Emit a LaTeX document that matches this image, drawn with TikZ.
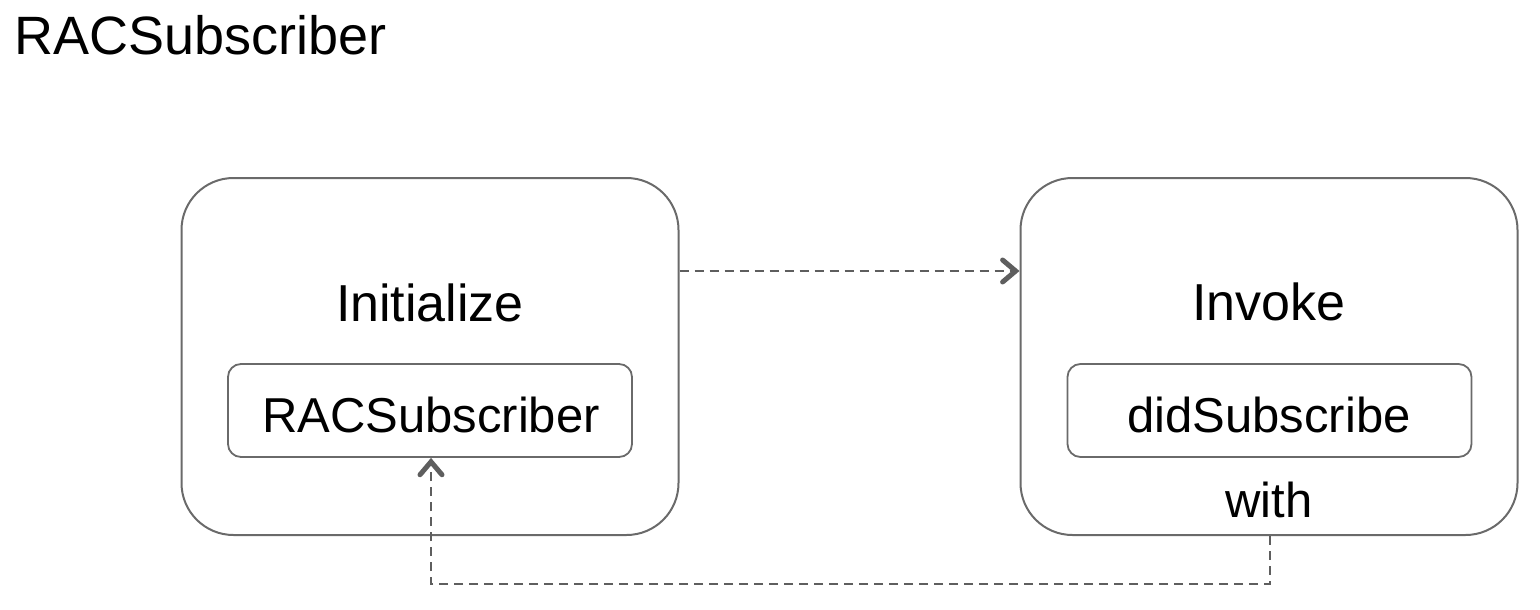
\documentclass[tikz,border=0pt]{standalone}
\usepackage{fontspec}
\setmainfont{Liberation Sans}
\usetikzlibrary{arrows.meta}
\definecolor{boxgray}{HTML}{6A6A6A}
\definecolor{linegray}{HTML}{5E5E5E}
\begin{document}
\begin{tikzpicture}[x=1pt,y=-1pt,
  outerbox/.style={draw=boxgray, line width=2pt, rounded corners=52pt,
    minimum width=497pt, minimum height=357pt, inner sep=0pt},
  innerbox/.style={draw=boxgray, line width=1.8pt, rounded corners=13pt,
    minimum width=404pt, minimum height=93pt, inner sep=0pt},
  bigtext/.style={anchor=base, inner sep=0pt, font=\fontsize{52}{62}\selectfont},
  smalltext/.style={anchor=base, inner sep=0pt, font=\fontsize{49}{58}\selectfont},
  conn/.style={draw=linegray, line width=2pt, dash pattern=on 9pt off 6pt,
    -{Straight Barb[length=13pt,width=22pt,line width=5pt,line cap=round]}}
]
\useasboundingbox (0,0) rectangle (1540,610);

\node[anchor=base west, inner sep=0pt, font=\fontsize{54}{64}\selectfont] (title) at (14,55) {RACSubscriber};

\node[outerbox] (L) at (430,356.5) {};
\node[outerbox] (R) at (1269,356.5) {};
\node[innerbox] (LI) at (430,410.5) {};
\node[innerbox] (RI) at (1269.5,410.5) {};

\node[bigtext] (tinit) at (430,321) {Initialize};
\node[bigtext] (tinv) at (1269,320) {Invoke};
\node[smalltext] (trac) at (431,432) {RACSubscriber};
\node[smalltext] (tdid) at (1269,432) {didSubscribe};
\node[smalltext] (twith) at (1269,517) {with};

\coordinate (ya) at (0,271);
\coordinate (bx) at (1270,0);
\coordinate (ax) at (431,0);
\coordinate (by) at (0,584);

\draw[conn] (L.east |- ya) -- (R.west |- ya);
\draw[conn] (R.south -| bx) -- (bx |- by) -- (ax |- by) -- (LI.south -| ax);
\end{tikzpicture}
\end{document}
